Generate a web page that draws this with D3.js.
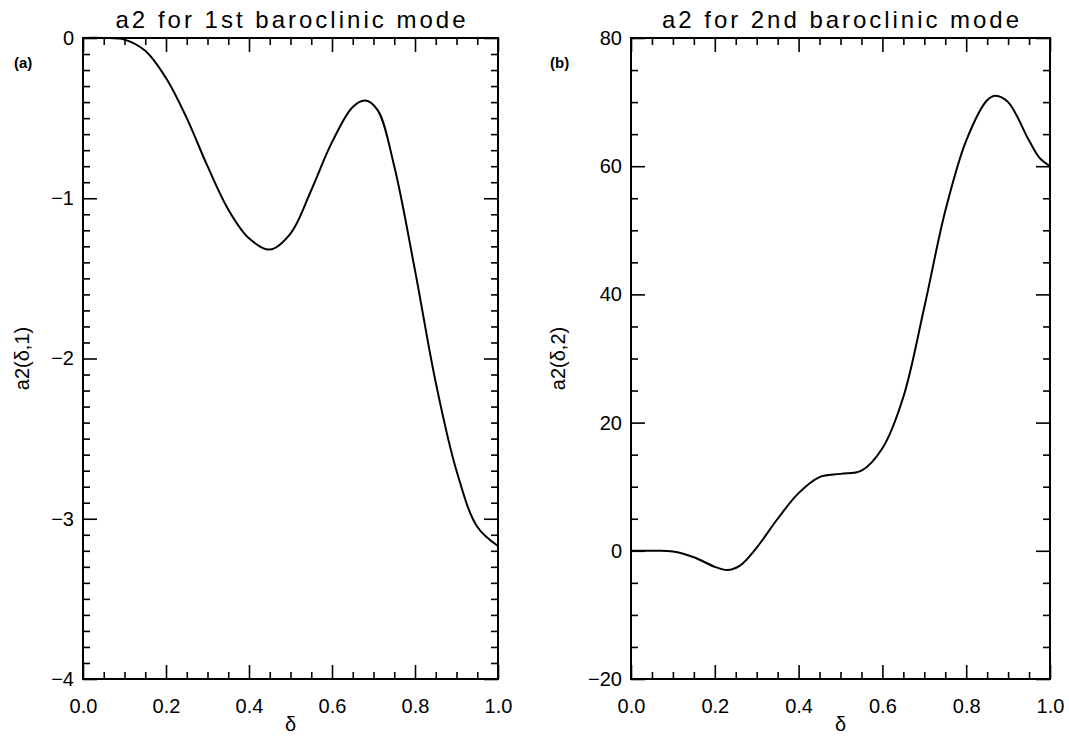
<!DOCTYPE html>
<html>
<head>
<meta charset="utf-8">
<script src="https://cdn.jsdelivr.net/npm/d3@7"></script>
<style>
  body { margin: 0; background: #fff; }
  svg { display: block; }
  text { font-family: "Liberation Sans", Arial, sans-serif; fill: #000; }
</style>
</head>
<body>
<svg id="chart" width="1069" height="736"></svg>
<script>
// delta values
var deltaA = [0, 0.05, 0.1, 0.15, 0.2, 0.25, 0.3, 0.35, 0.4, 0.45, 0.5, 0.55, 0.6, 0.65, 0.68, 0.71, 0.75, 0.8, 0.85, 0.9, 0.95, 1.0];
var a2Mode1 = [0, 0, -0.01, -0.08, -0.25, -0.5, -0.8, -1.07, -1.25, -1.32, -1.22, -0.95, -0.65, -0.43, -0.39, -0.45, -0.8, -1.45, -2.15, -2.7, -3.05, -3.17];

var deltaB = [0, 0.05, 0.1, 0.15, 0.2, 0.23, 0.26, 0.3, 0.35, 0.4, 0.45, 0.5, 0.55, 0.6, 0.65, 0.7, 0.75, 0.8, 0.85, 0.87, 0.9, 0.95, 0.975, 1.0];
var a2Mode2 = [0, 0, -0.1, -1, -2.5, -3, -2.3, 0.5, 5, 9, 11.5, 12, 12.5, 16, 24, 38, 53, 64, 70.3, 71, 70, 64, 61.3, 60];

var xTicks = [0, 0.2, 0.4, 0.6, 0.8, 1.0];
var yTicksA = [0, -1, -2, -3, -4];
var yTicksB = [-20, 0, 20, 40, 60, 80];

var titles = ["a2 for 1st baroclinic mode", "a2 for 2nd baroclinic mode"];
var yTitles = ["a2(\u03b4,1)", "a2(\u03b4,2)"];
var panelTags = ["(a)", "(b)"];

var svg = d3.select("#chart");

var panels = [
  { left: 83, right: 498, x: deltaA, y: a2Mode1, yDomain: [-4, 0], yTicks: yTicksA, yMinor: 0.1, yTitleX: 22, tagX: 14, titleLen: 350 },
  { left: 631, right: 1050, x: deltaB, y: a2Mode2, yDomain: [-20, 80], yTicks: yTicksB, yMinor: 5, yTitleX: 558, tagX: 550, titleLen: 357 }
];
var plotTop = 38, plotBottom = 679;

panels.forEach(function (p, i) {
  var x = d3.scaleLinear().domain([0, 1]).range([p.left, p.right]);
  var y = d3.scaleLinear().domain(p.yDomain).range([plotBottom, plotTop]);

  var xMinor = d3.range(0, 1.0001, 0.05).filter(function (v) { return Math.abs(v * 5 - Math.round(v * 5)) > 1e-6; });
  var nMinor = Math.round((p.yDomain[1] - p.yDomain[0]) / p.yMinor);
  var yMinor = d3.range(0, nMinor + 1).map(function (k) { return p.yDomain[0] + k * p.yMinor; })
    .filter(function (v) { return p.yTicks.every(function (t) { return Math.abs(t - v) > 1e-6; }); });

  var g = svg.append("g");

  // major ticks with labels
  g.append("g").attr("transform", "translate(0," + plotBottom + ")")
    .call(d3.axisBottom(x).tickValues(xTicks).tickFormat(d3.format(".1f")).tickSize(-14).tickPadding(20));
  g.append("g").attr("transform", "translate(" + p.left + ",0)")
    .call(d3.axisLeft(y).tickValues(p.yTicks).tickFormat(function (d) { return d < 0 ? "\u2212" + Math.abs(d) : d; }).tickSize(-14).tickPadding(9));
  // mirrored major ticks
  g.append("g").attr("transform", "translate(0," + plotTop + ")")
    .call(d3.axisTop(x).tickValues(xTicks).tickFormat("").tickSize(-14));
  g.append("g").attr("transform", "translate(" + p.right + ",0)")
    .call(d3.axisRight(y).tickValues(p.yTicks).tickFormat("").tickSize(-14));
  // minor ticks
  g.append("g").attr("transform", "translate(0," + plotBottom + ")")
    .call(d3.axisBottom(x).tickValues(xMinor).tickFormat("").tickSize(-7));
  g.append("g").attr("transform", "translate(0," + plotTop + ")")
    .call(d3.axisTop(x).tickValues(xMinor).tickFormat("").tickSize(-7));
  g.append("g").attr("transform", "translate(" + p.left + ",0)")
    .call(d3.axisLeft(y).tickValues(yMinor).tickFormat("").tickSize(-7));
  g.append("g").attr("transform", "translate(" + p.right + ",0)")
    .call(d3.axisRight(y).tickValues(yMinor).tickFormat("").tickSize(-7));

  g.selectAll(".domain").remove();
  g.selectAll(".tick line").attr("stroke", "#000").attr("stroke-width", 1.6);
  g.selectAll(".tick text").attr("font-size", 20).attr("font-family", "Liberation Sans, Arial, sans-serif");

  // frame
  g.append("rect")
    .attr("x", p.left).attr("y", plotTop)
    .attr("width", p.right - p.left).attr("height", plotBottom - plotTop)
    .attr("fill", "none").attr("stroke", "#000").attr("stroke-width", 2);

  // curve
  var line = d3.line()
    .x(function (d, k) { return x(p.x[k]); })
    .y(function (d) { return y(d); })
    .curve(d3.curveCatmullRom.alpha(0.5));
  g.append("path")
    .attr("d", line(p.y))
    .attr("fill", "none").attr("stroke", "#000").attr("stroke-width", 2);

  // title
  g.append("text")
    .attr("x", (p.left + p.right) / 2).attr("y", 28)
    .attr("text-anchor", "middle").attr("font-size", 24)
    .attr("textLength", p.titleLen).attr("lengthAdjust", "spacing")
    .text(titles[i]);

  // axis titles
  g.append("text")
    .attr("x", (p.left + p.right) / 2).attr("y", 731)
    .attr("text-anchor", "middle").attr("font-size", 20)
    .text("\u03b4");
  g.append("text")
    .attr("transform", "translate(" + (p.yTitleX + 7) + "," + ((plotTop + plotBottom) / 2) + ")rotate(-90)")
    .attr("text-anchor", "middle").attr("font-size", 20)
    .text(yTitles[i]);

  // panel tag
  g.append("text")
    .attr("x", p.tagX).attr("y", 68)
    .attr("font-family", "Liberation Serif, Times New Roman, serif")
    .attr("font-weight", "bold").attr("font-size", 15)
    .text(panelTags[i]);
});
</script>
</body>
</html>
